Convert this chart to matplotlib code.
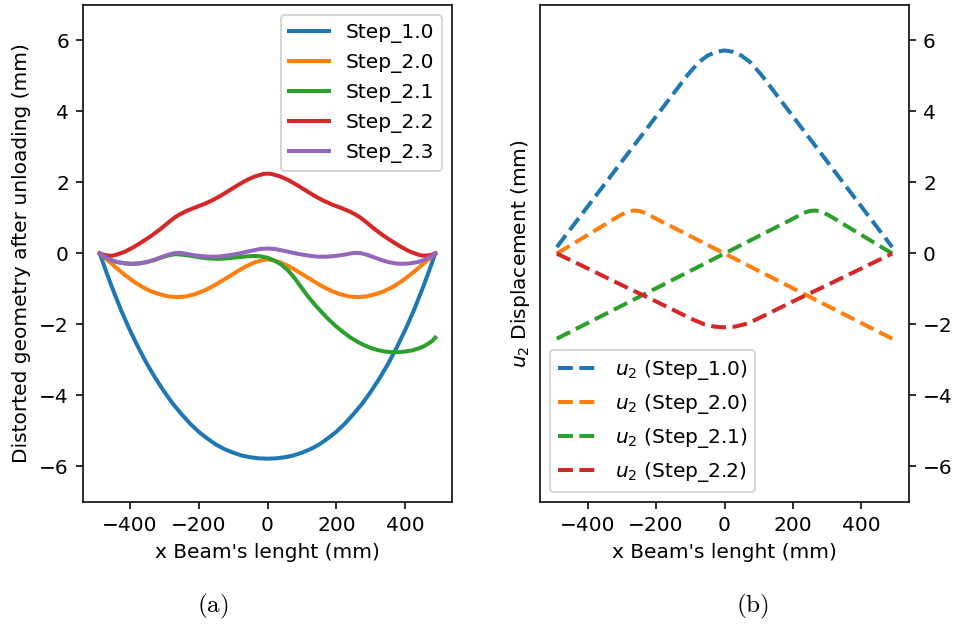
import matplotlib
matplotlib.use("Agg")
import matplotlib.pyplot as plt

# ---------------- data: (a) distorted geometry ----------------
x_step10 = [-487, -475, -465, -450, -425, -400, -375, -350, -325, -300, -275, -250, -225, -200,
            -175, -150, -125, -100, -75, -50, -25, 0,
            25, 50, 75, 100, 125, 150, 175, 200, 225, 250, 275, 300, 325, 350, 375, 400,
            425, 450, 465, 475, 487]
y_step10 = [0, -0.33, -0.60, -0.99, -1.60, -2.15, -2.65, -3.11, -3.52, -3.89, -4.23, -4.52, -4.79, -5.02,
            -5.21, -5.38, -5.51, -5.61, -5.69, -5.74, -5.77, -5.78,
            -5.77, -5.74, -5.69, -5.61, -5.51, -5.38, -5.21, -5.02, -4.79, -4.52, -4.23, -3.89, -3.52, -3.11, -2.65, -2.15,
            -1.60, -0.99, -0.60, -0.33, 0]

x_step20 = [-487, -462, -437, -412, -387, -362, -337, -312, -287, -262, -237, -212, -187, -162, -137,
            -112, -87, -62, -37, -12, 0,
            12, 37, 62, 87, 112, 137, 162, 187, 212, 237, 262, 287, 312, 337, 362, 387, 412, 437, 462, 487]
y_step20 = [0, -0.21, -0.42, -0.62, -0.80, -0.95, -1.07, -1.15, -1.21, -1.23, -1.21, -1.15, -1.06, -0.94, -0.80,
            -0.65, -0.50, -0.36, -0.25, -0.18, -0.17,
            -0.18, -0.25, -0.36, -0.50, -0.65, -0.80, -0.94, -1.06, -1.15, -1.21, -1.23, -1.21, -1.15, -1.07, -0.95,
            -0.80, -0.62, -0.42, -0.21, 0]

x_step21 = [-487, -475, -462, -450, -437, -412, -392, -372, -350, -330, -310, -290, -270, -250, -220,
            -195, -170, -145, -120, -100, -80, -60, -40, -20, 0, 20, 40, 60, 80, 100, 120, 140, 160,
            180, 200, 220, 240, 260, 280, 300, 320, 340, 360, 380, 400, 420, 440, 455, 470, 480, 487]
y_step21 = [0, -0.08, -0.15, -0.20, -0.24, -0.28, -0.29, -0.28, -0.24, -0.19, -0.12, -0.06, -0.02, -0.03, -0.07,
            -0.11, -0.14, -0.15, -0.14, -0.12, -0.10, -0.08, -0.07, -0.08, -0.12, -0.20, -0.31, -0.48, -0.71, -0.98,
            -1.24, -1.47, -1.68, -1.88, -2.06, -2.22, -2.36, -2.48, -2.58, -2.66, -2.72, -2.76, -2.78, -2.78, -2.76,
            -2.73, -2.67, -2.61, -2.52, -2.45, -2.37]

x_step22 = [-487, -475, -462, -450, -437, -412, -387, -362, -337, -312, -287, -270, -255, -237, -212,
            -187, -162, -137, -112, -87, -62, -37, -12, 0,
            12, 37, 62, 87, 112, 137, 162, 187, 212, 237, 255, 270, 287, 312, 337, 362, 387, 412,
            437, 450, 462, 475, 487]
y_step22 = [0, -0.04, -0.06, -0.06, -0.03, 0.06, 0.19, 0.34, 0.50, 0.68, 0.88, 1.01, 1.10, 1.19, 1.29,
            1.38, 1.49, 1.62, 1.77, 1.92, 2.06, 2.17, 2.24, 2.25,
            2.24, 2.17, 2.06, 1.92, 1.77, 1.62, 1.49, 1.38, 1.29, 1.19, 1.10, 1.01, 0.88, 0.68, 0.50, 0.34, 0.19, 0.06,
            -0.03, -0.06, -0.06, -0.04, 0]

x_step23 = [-487, -475, -462, -450, -437, -412, -392, -372, -350, -330, -310, -290, -270, -255, -240,
            -220, -195, -170, -145, -120, -100, -83, -60, -40, -20, 0,
            20, 40, 60, 83, 100, 120, 145, 170, 195, 220, 240, 255, 270, 290, 310, 330, 350, 372, 392,
            412, 437, 450, 462, 475, 487]
y_step23 = [0, -0.08, -0.15, -0.20, -0.24, -0.28, -0.29, -0.28, -0.24, -0.18, -0.11, -0.04, 0.01, 0.02, 0.0,
            -0.04, -0.07, -0.09, -0.09, -0.06, -0.03, 0.0, 0.05, 0.09, 0.13, 0.14,
            0.13, 0.09, 0.05, 0.0, -0.03, -0.06, -0.09, -0.09, -0.07, -0.04, 0.0, 0.02, 0.01, -0.04, -0.11, -0.18,
            -0.24, -0.28, -0.29, -0.28, -0.24, -0.20, -0.15, -0.08, 0]

# ---------------- data: (b) u2 displacement ----------------
x_u10 = [-490, -400, -300, -200, -107, -75, -50, -25, 0, 25, 50, 75, 107, 200, 300, 400, 490]
y_u10 = [0.18, 1.32, 2.59, 3.86, 5.04, 5.39, 5.57, 5.68, 5.72, 5.68, 5.57, 5.39, 5.04, 3.86, 2.59, 1.32, 0.18]

x_u20 = [-490, -400, -320, -300, -280, -266, -250, -230, -200, -100, 0, 100, 200, 300, 400, 490]
y_u20 = [0, 0.52, 0.99, 1.10, 1.18, 1.21, 1.20, 1.14, 0.98, 0.49, 0, -0.49, -0.98, -1.47, -1.96, -2.40]

x_u21 = [-490, -400, -300, -200, -100, 0, 100, 200, 230, 250, 266, 280, 300, 320, 400, 490]
y_u21 = [-2.40, -1.96, -1.47, -0.98, -0.49, 0, 0.49, 0.98, 1.14, 1.20, 1.21, 1.18, 1.10, 0.99, 0.52, 0]

x_u22 = [-490, -400, -300, -200, -120, -90, -60, -30, 0, 30, 60, 90, 120, 200, 300, 400, 490]
y_u22 = [0, -0.42, -0.89, -1.35, -1.73, -1.87, -1.99, -2.06, -2.08, -2.06, -1.99, -1.87, -1.73, -1.35, -0.89, -0.42, 0]

labels_a = ["Step_1.0", "Step_2.0", "Step_2.1", "Step_2.2", "Step_2.3"]
labels_b = [r"$u_2$ (Step_1.0)", r"$u_2$ (Step_2.0)", r"$u_2$ (Step_2.1)", r"$u_2$ (Step_2.2)"]
yticks = [-6, -4, -2, 0, 2, 4, 6]
xticks = [-400, -200, 0, 200, 400]

DPI = 145
W, H = 956, 626
fig = plt.figure(figsize=((W + 0.01) / DPI, (H + 0.01) / DPI), dpi=DPI)

axl = fig.add_axes([83 / W, (H - 502) / H, 369 / W, 497 / H])
axr = fig.add_axes([540 / W, (H - 502) / H, 369 / W, 497 / H])

colors = ["#1f77b4", "#ff7f0e", "#2ca02c", "#d62728", "#9467bd"]

series_a = [(x_step10, y_step10), (x_step20, y_step20), (x_step21, y_step21),
            (x_step22, y_step22), (x_step23, y_step23)]
for (xs, ys), lab, c in zip(series_a, labels_a, colors):
    axl.plot(xs, ys, color=c, lw=2, label=lab)
axl.set_ylim(-7, 7)
axl.set_yticks(yticks)
axl.set_xticks(xticks)
axl.set_xlabel("x Beam's lenght (mm)")
axl.set_ylabel("Distorted geometry after unloading (mm)")
axl.legend(loc="upper right")

series_b = [(x_u10, y_u10), (x_u20, y_u20), (x_u21, y_u21), (x_u22, y_u22)]
for (xs, ys), lab, c in zip(series_b, labels_b, colors):
    axr.plot(xs, ys, color=c, lw=2, ls="--", label=lab)
axr.set_ylim(-7, 7)
axr.set_yticks(yticks)
axr.set_xticks(xticks)
axr.yaxis.tick_right()
axr.yaxis.set_label_position("left")
axr.set_xlabel("x Beam's lenght (mm)")
axr.set_ylabel(r"$u_2$ Displacement (mm)")
axr.legend(loc="lower left")

fig.text(213 / W, 1 - 606 / H, r"$\mathrm{(a)}$", fontsize=12.5, ha="center", va="center",
         math_fontfamily="cm")
fig.text(752 / W, 1 - 606 / H, r"$\mathrm{(b)}$", fontsize=12.5, ha="center", va="center",
         math_fontfamily="cm")

fig.savefig("out.png", dpi=DPI)
